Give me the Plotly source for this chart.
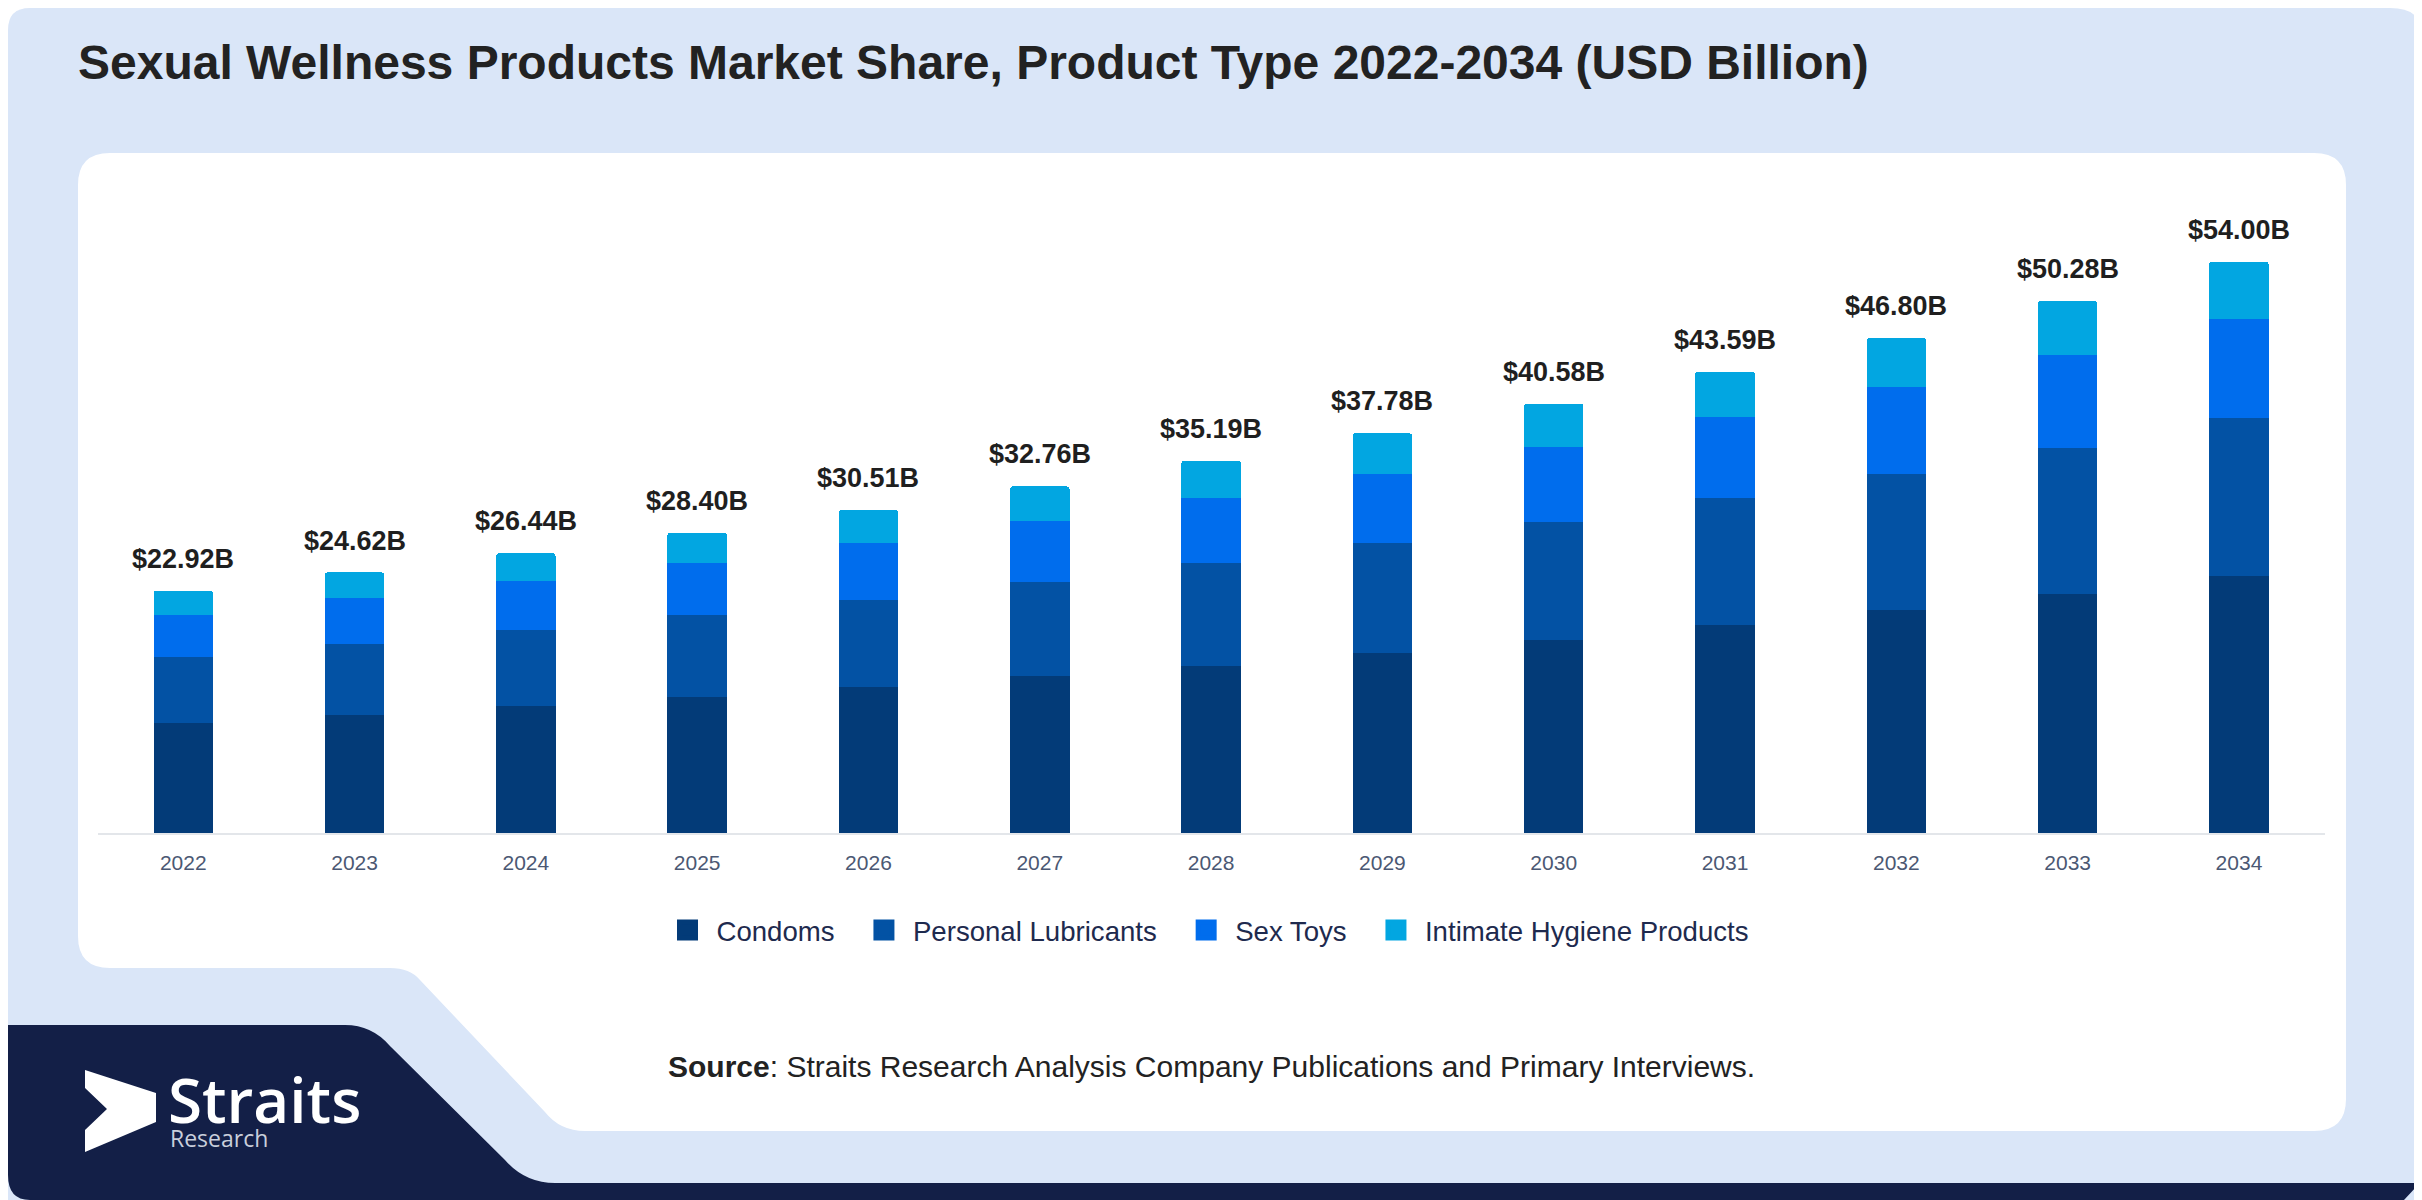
import plotly.graph_objects as go

# page body has an 8px margin, so the figure is a bit smaller and offset
OFF = 8
W, H = 2422 - OFF, 1200 - OFF

years = ["2022", "2023", "2024", "2025", "2026", "2027", "2028",
         "2029", "2030", "2031", "2032", "2033", "2034"]
condoms = [10.44, 11.15, 11.96, 12.84, 13.81, 14.85, 15.83, 16.98, 18.26, 19.64, 21.08, 22.63, 24.31]
lubricants = [6.19, 6.71, 7.21, 7.79, 8.24, 8.92, 9.68, 10.40, 11.16, 11.98, 12.88, 13.77, 14.96]
sex_toys = [4.02, 4.31, 4.66, 4.92, 5.32, 5.71, 6.15, 6.59, 7.06, 7.66, 8.17, 8.79, 9.35]
hygiene = [2.26, 2.46, 2.61, 2.84, 3.15, 3.28, 3.53, 3.81, 4.10, 4.32, 4.67, 5.10, 5.38]
totals = [22.92, 24.62, 26.44, 28.40, 30.51, 32.76, 35.19, 37.78, 40.58, 43.59, 46.80, 50.28, 54.00]

series = [
    ("Condoms", condoms, "#033b78"),
    ("Personal Lubricants", lubricants, "#0352a4"),
    ("Sex Toys", sex_toys, "#006ded"),
    ("Intimate Hygiene Products", hygiene, "#02a6e1"),
]

FONT = "Liberation Sans, Arial, sans-serif"
LIGHT = "#dae6f8"
NAVY = "#131f47"


def px(x):
    return (x - OFF) / W


def py(y):
    return 1 - (y - OFF) / H


def path(cmds):
    # cmds: list of (letter, [x, y, ...]) in page pixels -> paper path
    # plotly wants one parameter set per command letter
    out = []
    for c, pts in cmds:
        if c == "Z":
            out.append("Z")
            continue
        step = 4 if c == "Q" else 2
        for i in range(0, len(pts), step):
            coords = []
            for j in range(i, i + step, 2):
                coords.append(f"{px(pts[j]):.5f},{py(pts[j + 1]):.5f}")
            out.append(c + " ".join(coords))
    return " ".join(out)


fig = go.Figure()

for name, vals, col in series:
    fig.add_trace(go.Bar(x=years, y=vals, name=name, marker_color=col,
                         marker_line_width=0, showlegend=False,
                         legendgroup=name))
    # legend entry with a bigger square (nbsp padding for item spacing)
    fig.add_trace(go.Scatter(x=[years[0]], y=[None], mode="markers",
                             name=name + "\u00a0\u00a0",
                             legendgroup=name, hoverinfo="skip",
                             marker=dict(symbol="square", size=16, color=col,
                                         line=dict(color=col, width=5))))

annotations = []
for i, t in enumerate(totals):
    annotations.append(dict(x=i, y=t, xref="x", yref="y", text=f"${t:.2f}B",
                            showarrow=False, yanchor="bottom", yshift=15,
                            font=dict(family=FONT, size=27, color="#1f1f1f",
                                      weight="bold")))

annotations += [
    dict(x=px(76), y=py(62), xref="paper", yref="paper", xanchor="left",
         yanchor="middle", showarrow=False,
         text="<b>Sexual Wellness Products Market Share, Product Type 2022-2034 (USD Billion)</b>",
         font=dict(family=FONT, size=48, color="#222222")),
    dict(x=px(666), y=py(1066), xref="paper", yref="paper", xanchor="left",
         yanchor="middle", showarrow=False,
         text="<b>Source</b>: Straits Research Analysis Company Publications and Primary Interviews.",
         font=dict(family=FONT, size=30, color="#222222")),
    dict(x=px(166), y=py(1099), xref="paper", yref="paper", xanchor="left",
         yanchor="middle", showarrow=False, text="Straits", height=56,
         font=dict(family="Open Sans, sans-serif", size=62, color="white",
                   weight=600)),
    dict(x=px(168), y=py(1138), xref="paper", yref="paper", xanchor="left",
         yanchor="middle", showarrow=False, text="Research", height=22,
         font=dict(family="Open Sans, sans-serif", size=23, color="#c9cfdc")),
]

shapes = [
    # light blue card
    dict(type="path", xref="paper", yref="paper", layer="below", line_width=0,
         fillcolor=LIGHT,
         path=path([("M", [OFF, 30]), ("Q", [OFF, OFF, 30, OFF]), ("L", [2390, OFF]),
                    ("Q", [2420, OFF, 2420, 30]), ("L", [2420, 1200, OFF, 1200]),
                    ("Z", [])])),
    # white panel
    dict(type="path", xref="paper", yref="paper", layer="below", line_width=0,
         fillcolor="white",
         path=path([("M", [78, 185]), ("Q", [78, 153, 110, 153]),
                    ("L", [2314, 153]), ("Q", [2346, 153, 2346, 185]),
                    ("L", [2346, 1099]), ("Q", [2346, 1131, 2314, 1131]),
                    ("L", [585, 1131]), ("Q", [560, 1131, 545, 1112]),
                    ("L", [420, 980]), ("Q", [410, 968, 390, 968]),
                    ("L", [110, 968]), ("Q", [78, 968, 78, 936]), ("Z", [])])),
    # navy footer
    dict(type="path", xref="paper", yref="paper", layer="below", line_width=0,
         fillcolor=NAVY,
         path=path([("M", [OFF, 1025]), ("L", [345, 1025]),
                    ("Q", [372, 1025, 390, 1046]), ("L", [505, 1160]),
                    ("Q", [525, 1183, 555, 1183]),
                    ("L", [2420, 1183, 2404, 1200, 30, 1200]),
                    ("Q", [OFF, 1200, OFF, 1175]), ("Z", [])])),
    # logo arrow
    dict(type="path", xref="paper", yref="paper", layer="above", line_width=0,
         fillcolor="white",
         path=path([("M", [85, 1070]),
                    ("L", [156, 1093, 156, 1122, 85, 1152,
                           85, 1130, 107, 1109, 85, 1088]),
                    ("Z", [])])),
]

fig.update_layout(
    width=W, height=H, autosize=False,
    margin=dict(l=0, r=0, t=0, b=0, autoexpand=False),
    paper_bgcolor="white",
    plot_bgcolor="rgba(0,0,0,0)",
    barmode="stack",
    bargap=0.653,
    barcornerradius=3,
    font=dict(family=FONT),
    xaxis=dict(domain=[px(97.6), px(2324.6)], type="category",
               categoryorder="array", categoryarray=years,
               range=[-0.5, len(years) - 0.5], automargin=False,
               showline=True, linecolor="#e3e6ea", linewidth=2,
               showgrid=False, ticks="outside", ticklen=10,
               tickcolor="rgba(0,0,0,0)",
               tickfont=dict(family=FONT, size=21, color="#4b5873"),
               fixedrange=True),
    yaxis=dict(domain=[py(833), py(200)], range=[0, 59.83], visible=False,
               automargin=False, showgrid=False, fixedrange=True),
    legend=dict(orientation="h", x=px(1214), xanchor="center", y=py(930),
                yanchor="middle", bgcolor="rgba(0,0,0,0)",
                font=dict(family=FONT, size=27.6, color="#1e2a4e"),
                itemwidth=48),
    annotations=annotations,
    shapes=shapes,
    showlegend=True,
)

fig.write_html("out.html")
